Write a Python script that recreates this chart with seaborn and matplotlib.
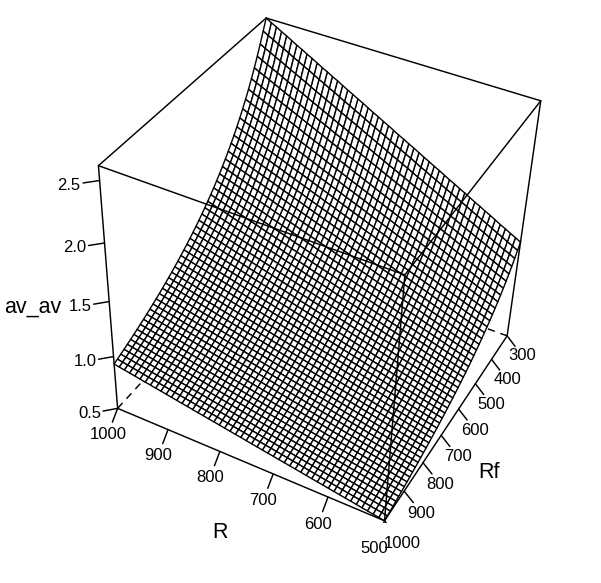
import numpy as np
import matplotlib
matplotlib.use("Agg")
import matplotlib.pyplot as plt
import seaborn as sns
from mpl_toolkits.mplot3d import proj3d

# grid of the surface, 51 lines each way
R_vals = np.linspace(500, 1000, 51)
Rf_vals = np.linspace(300, 1000, 51)

# height read along the front edge Rf=1000, R from 500 to 1000
z_along_R = [0.500, 0.509, 0.517, 0.526, 0.534, 0.543, 0.552, 0.560, 0.569, 0.577,
             0.586, 0.595, 0.603, 0.612, 0.620, 0.629, 0.638, 0.646, 0.655, 0.663,
             0.672, 0.681, 0.689, 0.698, 0.706, 0.715, 0.724, 0.732, 0.741, 0.749,
             0.758, 0.767, 0.775, 0.784, 0.792, 0.801, 0.810, 0.818, 0.827, 0.835,
             0.844, 0.853, 0.861, 0.870, 0.878, 0.887, 0.896, 0.904, 0.913, 0.921,
             0.930]
# height read along the edge R=1000, Rf from 300 to 1000
z_along_Rf = [2.614, 2.529, 2.443, 2.363, 2.288, 2.218, 2.151, 2.089, 2.030, 1.975,
              1.922, 1.872, 1.825, 1.780, 1.737, 1.696, 1.657, 1.620, 1.584, 1.550,
              1.517, 1.486, 1.456, 1.427, 1.399, 1.373, 1.347, 1.322, 1.299, 1.276,
              1.253, 1.232, 1.211, 1.191, 1.172, 1.153, 1.135, 1.117, 1.100, 1.084,
              1.068, 1.052, 1.037, 1.022, 1.008, 0.994, 0.981, 0.967, 0.955, 0.942,
              0.930]

R_ticks = [500, 600, 700, 800, 900, 1000]
Rf_ticks = [300, 400, 500, 600, 700, 800, 900, 1000]
z_ticks = [0.5, 1.0, 1.5, 2.0, 2.5]

sns.set_theme(style="white")
plt.rcParams['font.family'] = ['Liberation Sans', 'DejaVu Sans']

# inner cells are the two read edges multiplied, not read one by one
Z = np.outer(z_along_Rf, z_along_R) / z_along_R[-1]
X, Y = np.meshgrid(R_vals, Rf_vals)

fig = plt.figure(figsize=(6.01, 5.83), dpi=100)
ax = fig.add_axes([0.09744, 0.10208, 0.85655, 0.88300], projection="3d")
ax.computed_zorder = False

x0, x1 = 500, 1000
y0, y1 = 300, 1000
z0, z1 = 0.5, 2.614
ax.set_xlim(x0, x1, view_margin=0)
ax.set_ylim(y0, y1, view_margin=0)
ax.set_zlim(z0, z1, view_margin=0)
ax.view_init(elev=39.18, azim=116.69, roll=-2.17)
ax.set_proj_type("persp", focal_length=0.5442)
ax.set_box_aspect((1, 0.9939, 1.0017))
ax.set_axis_off()

def seg(a, b, z=3, **kw):
    ax.plot([a[0], b[0]], [a[1], b[1]], [a[2], b[2]], color="black", zorder=z,
            lw=kw.pop("lw", 1.05), solid_capstyle="round", **kw)

def label(x, y, z, s, size=12):
    # plain 2d text placed where the 3d point lands
    px, py, _ = proj3d.proj_transform(x, y, z, ax.get_proj())
    ax.text2D(px, py, s, transform=ax.transData, ha="center", va="center",
              fontsize=size, color="black", zorder=4)

# back of the box, under the surface
seg((x1, y1, z0), (x1, y0, z0), z=1, ls=(0, (5, 4)))
seg((x0, y0, z0), (x1, y0, z0), z=1, ls=(0, (5, 4)))
seg((x1, y0, z0), (x1, y0, z1), z=1, ls=(0, (5, 4)))
seg((x1, y1, z1), (x1, y0, z1), z=1)
seg((x0, y0, z1), (x1, y0, z1), z=1)

ax.plot_surface(X, Y, Z, rstride=1, cstride=1, color="white", edgecolor="black",
                linewidth=1.0, shade=False, zorder=2)

# front of the box, over the surface
seg((x1, y1, z0), (x0, y1, z0))
seg((x0, y1, z0), (x0, y0, z0))
seg((x1, y1, z0), (x1, y1, z1))
seg((x0, y0, z0), (x0, y0, z1))
seg((x0, y1, z0), (x0, y1, z1))
seg((x1, y1, z1), (x0, y1, z1))
seg((x0, y1, z1), (x0, y0, z1))

dx = x1 - x0
dy = y1 - y0
dz = z1 - z0
tick = 0.035

for v in R_ticks:
    seg((v, y1, z0), (v, y1 + tick*dy, z0 - tick*dz))
    label(v, y1 + 0.065*dy, z0 - 0.065*dz, str(v))
for v in Rf_ticks:
    seg((x0, v, z0), (x0 - tick*dx, v, z0 - tick*dz))
    label(x0 - 0.067*dx, v, z0 - 0.067*dz, str(v))
for v in z_ticks:
    seg((x1, y1, v), (x1 + tick*dx, y1 + tick*dy, v))
    label(x1 + 0.066*dx, y1 + 0.066*dy, v, f"{v:.1f}")

label(750, y1 + 0.17*dy, z0 - 0.17*dz, "R", size=15.5)
label(x0 - 0.16*dx, 650, z0 - 0.16*dz, "Rf", size=15.5)
label(x1 + 0.17*dx, y1 + 0.17*dy, 1.56, "av_av", size=15.5)

fig.savefig("out.png", dpi=100, facecolor="white")
